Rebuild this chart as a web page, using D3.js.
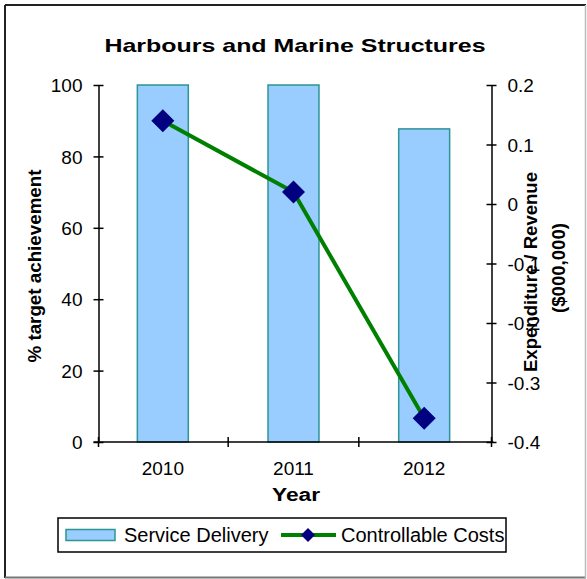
<!DOCTYPE html>
<html>
<head>
<meta charset="utf-8">
<script src="https://cdn.jsdelivr.net/npm/d3@7"></script>
<style>
  html, body { margin: 0; padding: 0; background: #fff; }
  svg { display: block; }
  text { font-family: "Liberation Sans", Arial, sans-serif; fill: #000; }
</style>
</head>
<body>
<svg id="chart" width="587" height="579"></svg>
<script>
// Chart data
const years = ["2010", "2011", "2012"];
const serviceDelivery = [100, 100, 87.7];          // % target achievement (left axis)
const controllableCosts = [0.14, 0.02, -0.36];     // $000,000 (right axis)
const leftTicks = [0, 20, 40, 60, 80, 100];
const rightTicks = [-0.4, -0.3, -0.2, -0.1, 0, 0.1, 0.2];

const svg = d3.select("#chart");
const W = 587, H = 579;
const plot = { left: 98.5, right: 491.5, top: 85, bottom: 442 };

// Outer frame
svg.append("rect").attr("x", 0).attr("y", 0).attr("width", W).attr("height", H).attr("fill", "#fff");
svg.append("line").attr("x1", 5).attr("x2", 586).attr("y1", 5).attr("y2", 5).attr("stroke", "#222").attr("stroke-width", 2);
svg.append("line").attr("x1", 5).attr("x2", 5).attr("y1", 5).attr("y2", 578).attr("stroke", "#222").attr("stroke-width", 2);
svg.append("line").attr("x1", 5).attr("x2", 586).attr("y1", 577.5).attr("y2", 577.5).attr("stroke", "#777").attr("stroke-width", 2);
svg.append("line").attr("x1", 585.5).attr("x2", 585.5).attr("y1", 5).attr("y2", 578).attr("stroke", "#bbb").attr("stroke-width", 1.5);

// Scales
const x = d3.scaleBand().domain(years).range([plot.left - 1, plot.right - 2]).padding(0);
const yL = d3.scaleLinear().domain([0, 100]).range([plot.bottom, plot.top]);
const yR = d3.scaleLinear().domain([-0.4, 0.2]).range([plot.bottom, plot.top]);

// Bars
const barW = x.bandwidth() * 0.39;
svg.append("g").selectAll("rect")
  .data(years)
  .join("rect")
  .attr("x", (d) => x(d) + (x.bandwidth() - barW) / 2)
  .attr("y", (d, i) => yL(serviceDelivery[i]))
  .attr("width", barW)
  .attr("height", (d, i) => yL(0) - yL(serviceDelivery[i]))
  .attr("fill", "#99CCFF")
  .attr("stroke", "#2E9494")
  .attr("stroke-width", 1.5);

// Axes
const tickStyle = (g) => {
  g.selectAll("path.domain").attr("stroke", "#000").attr("stroke-width", 1.5);
  g.selectAll(".tick line").attr("stroke", "#000").attr("stroke-width", 1.5);
  g.selectAll(".tick text").attr("font-size", 19).attr("font-family", "Liberation Sans, Arial, sans-serif").attr("fill", "#000");
};

const gL = svg.append("g").attr("transform", `translate(${plot.left},0)`)
  .call(d3.axisLeft(yL).tickValues(leftTicks).tickSizeInner(5).tickSizeOuter(0).tickPadding(11).tickFormat(d3.format("d")));
tickStyle(gL);
gL.selectAll(".tick line").attr("x1", 5).attr("x2", -5);
gL.selectAll(".tick text").attr("dy", "0.35em");

// Right axis labels use a plain hyphen for negatives
const fmtR = (d) => (Math.abs(d) < 1e-9 ? "0" : (d < 0 ? "-" : "") + d3.format(".1f")(Math.abs(d)));
const gR = svg.append("g").attr("transform", `translate(${plot.right},0)`)
  .call(d3.axisRight(yR).tickValues(rightTicks).tickSizeInner(5).tickSizeOuter(0).tickPadding(11).tickFormat(fmtR));
tickStyle(gR);
gR.selectAll(".tick line").attr("x1", -5).attr("x2", 5);
gR.selectAll(".tick text").attr("dy", "0.35em");

// Category axis with boundary ticks between years
const gX = svg.append("g").attr("transform", `translate(0,${plot.bottom})`);
gX.append("line").attr("x1", plot.left - 5).attr("x2", plot.right + 2)
  .attr("stroke", "#000").attr("stroke-width", 1.5);
const bounds = [plot.left, x(years[1]), x(years[2]), plot.right];
gX.selectAll("line.b").data(bounds).join("line").attr("class", "b")
  .attr("x1", (d) => d).attr("x2", (d) => d).attr("y1", -5).attr("y2", 5)
  .attr("stroke", "#000").attr("stroke-width", 1.5);
gX.selectAll("text").data(years).join("text")
  .attr("x", (d) => x(d) + x.bandwidth() / 2)
  .attr("y", 33)
  .attr("text-anchor", "middle")
  .attr("font-size", 19)
  .text((d) => d);

// Controllable costs line
const line = d3.line()
  .x((d, i) => x(years[i]) + x.bandwidth() / 2)
  .y((d) => yR(d));
svg.append("path").datum(controllableCosts)
  .attr("d", line)
  .attr("fill", "none")
  .attr("stroke", "#008000")
  .attr("stroke-width", 4)
  .attr("stroke-linejoin", "round");

const diamond = (r) => `M0,${-r}L${r},0L0,${r}L${-r},0Z`;
svg.append("g").selectAll("path")
  .data(controllableCosts)
  .join("path")
  .attr("transform", (d, i) => `translate(${x(years[i]) + x.bandwidth() / 2},${yR(d)})`)
  .attr("d", diamond(11.5))
  .attr("fill", "#000080");

// Title
svg.append("text")
  .attr("x", 295).attr("y", 52)
  .attr("text-anchor", "middle")
  .attr("font-size", 19).attr("font-weight", "bold")
  .attr("textLength", 381).attr("lengthAdjust", "spacingAndGlyphs")
  .text("Harbours and Marine Structures");

// Axis titles
svg.append("text")
  .attr("transform", "translate(41,266) rotate(-90)")
  .attr("text-anchor", "middle")
  .attr("font-size", 18).attr("font-weight", "bold")
  .attr("textLength", 193).attr("lengthAdjust", "spacingAndGlyphs")
  .text("% target achievement");

svg.append("text")
  .attr("transform", "translate(537,272) rotate(-90)")
  .attr("text-anchor", "middle")
  .attr("font-size", 18).attr("font-weight", "bold")
  .attr("textLength", 200).attr("lengthAdjust", "spacingAndGlyphs")
  .text("Expenditure / Revenue");
svg.append("text")
  .attr("transform", "translate(565,268) rotate(-90)")
  .attr("text-anchor", "middle")
  .attr("font-size", 18).attr("font-weight", "bold")
  .attr("textLength", 90).attr("lengthAdjust", "spacingAndGlyphs")
  .text("($000,000)");

svg.append("text")
  .attr("x", 296).attr("y", 501)
  .attr("text-anchor", "middle")
  .attr("font-size", 18).attr("font-weight", "bold")
  .attr("textLength", 48).attr("lengthAdjust", "spacingAndGlyphs")
  .text("Year");

// Legend
const lg = svg.append("g");
lg.append("rect").attr("x", 58).attr("y", 518).attr("width", 448).attr("height", 34)
  .attr("fill", "#fff").attr("stroke", "#000").attr("stroke-width", 1.5);
lg.append("rect").attr("x", 66).attr("y", 529.5).attr("width", 49).attr("height", 11)
  .attr("fill", "#99CCFF").attr("stroke", "#2E9494").attr("stroke-width", 1.5);
lg.append("text").attr("x", 124).attr("y", 542).attr("font-size", 20).text("Service Delivery");
lg.append("line").attr("x1", 281).attr("x2", 336).attr("y1", 535).attr("y2", 535)
  .attr("stroke", "#008000").attr("stroke-width", 4);
lg.append("path").attr("transform", "translate(308,535)").attr("d", diamond(7)).attr("fill", "#000080");
lg.append("text").attr("x", 341).attr("y", 542).attr("font-size", 20).text("Controllable Costs");
</script>
</body>
</html>
